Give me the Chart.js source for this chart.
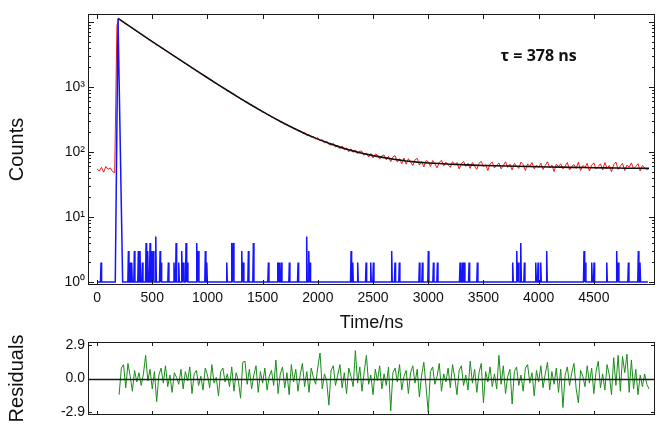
<!DOCTYPE html>
<html lang="en">
<head>
<meta charset="UTF-8">
<title>Fluorescence decay</title>
<script src="https://cdn.jsdelivr.net/npm/chart.js"></script>
<style>
  body { margin: 0; background: #fff; }
  #wrap { position: relative; width: 667px; height: 427px; }
  #wrap canvas { position: absolute; left: 0; }
  #chart-decay { top: 0; }
  #chart-resid { top: 330px; }
</style>
</head>
<body>
<div id="wrap">
  <canvas id="chart-decay" width="667" height="335"></canvas>
  <canvas id="chart-resid" width="667" height="97"></canvas>
</div>
<script>
// axis ranges / ticks
const timeMin = -82, timeMax = 5054;
const timeTicks = [0, 500, 1000, 1500, 2000, 2500, 3000, 3500, 4000, 4500];
const countMin = 0.9, countMax = 13300;
const countTicks = [1, 10, 100, 1000];
const residMin = -3.15, residMax = 3.15;
const residTicks = [-2.9, 0, 2.9];
const tauLabel = 'τ = 378 ns';
const tauLabelAt = [4000, 3000];

// measured decay, 20 ns channels starting at 0 ns
const decayStart = 0, decayStep = 20;
const decayCounts = [
  55, 51, 58, 49, 60, 54, 57, 50, 48, 9000,
  11050, 10380, 9950, 9330, 8960, 8420, 8060, 7570, 7260, 6830,
  6540, 6120, 5890, 5520, 5310, 4960, 4790, 4470, 4310, 4030,
  3900, 3640, 3510, 3270, 3160, 2960, 2860, 2660, 2570, 2400,
  2330, 2170, 2100, 1950, 1900, 1770, 1720, 1590, 1550, 1440,
  1410, 1300, 1270, 1170, 1150, 1060, 1045, 965, 945, 870,
  860, 790, 785, 718, 710, 650, 645, 592, 590, 538,
  534, 496, 485, 452, 444, 411, 405, 379, 372, 345,
  342, 317, 313, 291, 290, 266, 268, 246, 247, 228,
  230, 211, 214, 195, 199, 181, 186, 169, 174, 158,
  166, 149, 155, 138, 147, 131, 128, 136, 119, 127,
  113, 124, 108, 115, 101, 112, 99, 108, 94, 104,
  102, 89, 97, 84, 95, 81, 93, 90, 78, 88,
  90, 76, 86, 71, 84, 88, 70, 79, 66, 81,
  65, 79, 70, 62, 76, 80, 63, 72, 59, 74,
  71, 60, 74, 66, 57, 69, 75, 61, 70, 64,
  58, 71, 63, 69, 55, 66, 72, 60, 67, 56,
  69, 61, 54, 67, 72, 59, 64, 52, 66, 70,
  57, 63, 68, 55, 62, 71, 58, 65, 53, 67,
  61, 56, 70, 64, 52, 66, 60, 69, 55, 63,
  58, 67, 54, 62, 71, 57, 63, 50, 65, 60,
  66, 55, 61, 69, 53, 60, 64, 56, 70, 52,
  62, 58, 67, 51, 63, 68, 55, 60, 66, 53,
  69, 56, 62, 50, 64, 70, 54, 61, 67, 52,
  63, 58, 68, 55, 60, 66, 51, 62, 57, 54,
  56
];

// single exponential fit
const fitTime = [190, 300, 400, 500, 600, 700, 800, 900, 1000, 1100,
  1200, 1300, 1400, 1500, 1600, 1700, 1800, 1900, 2000, 2100,
  2200, 2300, 2400, 2500, 2600, 2700, 2800, 2900, 3000, 3100,
  3200, 3300, 3400, 3500, 3600, 3700, 3800, 3900, 4000, 4100,
  4200, 4300, 4400, 4500, 4600, 4700, 4800, 4900, 5000];
const fitCounts = [11400, 8500, 6500, 5000, 3870, 2990, 2310, 1790, 1390, 1080,
  845, 665, 525, 418, 336, 272, 224, 186, 158, 136,
  119, 106, 96, 88, 82, 77, 73, 70, 68, 66.5,
  65, 64, 63, 62, 61.5, 61, 60.5, 60, 59.5, 59,
  58.5, 58, 57.7, 57.4, 57, 56.7, 56.4, 56.2, 56];

// instrument response: baseline of 1 count, main pulse and single-count spikes
const irfStart = 0, irfEnd = 4990, irfBaseline = 1, irfSpikeHalfWidth = 5;
const irfPulseTime = [165, 190, 232];
const irfPulseCounts = [1, 11200, 1];
const irfSpikeTime = [36, 284, 299, 314, 338, 374, 389, 411, 444, 459,
  480, 495, 510, 532, 571, 580, 646, 697, 716, 740,
  767, 782, 806, 818, 903, 918, 981, 994, 1175, 1220,
  1235, 1311, 1325, 1371, 1416, 1552, 1637, 1649, 1670, 1742,
  1821, 1899, 1918, 1929, 2301, 2316, 2361, 2437, 2479, 2503,
  2669, 2699, 2738, 2920, 2947, 3001, 3047, 3083, 3288, 3309,
  3327, 3370, 3445, 3765, 3802, 3817, 3838, 3871, 3974, 3995,
  4019, 4073, 4411, 4423, 4481, 4502, 4617, 4707, 4722, 4813,
  4903, 4918];
const irfSpikeCounts = [2, 3, 2, 2, 3, 3, 3, 2, 4, 3,
  4, 3, 3, 5, 3, 2, 2, 2, 4, 2,
  3, 2, 4, 2, 4, 3, 3, 2, 2, 4,
  4, 3, 2, 3, 4, 2, 2, 2, 2, 2,
  2, 5, 3, 2, 3, 2, 2, 2, 2, 2,
  3, 2, 2, 2, 2, 3, 2, 2, 2, 2,
  2, 2, 2, 2, 3, 2, 4, 2, 2, 2,
  2, 3, 3, 2, 2, 2, 2, 3, 2, 2,
  3, 2];

// weighted residuals, 20 ns channels from 200 ns
const residStart = 200, residStep = 20;
const residValues = [
  -1.4, 0.9, 1.2, -0.8, 1.3, 0.2, -1.1, 0.7, -0.3, 0.5,
  -0.6, 0.4, 2.0, -0.2, 0.8, -0.9, 0.6, -2.0, 0.3, 0.9,
  -0.4, 1.1, -0.7, 0.3, -1.2, 0.5, 0.1, -0.5, 0.8, -0.9,
  0.6, -0.2, 1.0, -1.3, 0.4, 0.7, -0.6, 0.2, -1.0, 0.9,
  0.3, -0.8, 1.2, -0.4, 0.1, -1.5, 0.6, 0.9, -0.3, 0.4,
  -0.7, 1.0, -1.1, 0.5, -0.2, -1.7, 1.4, 1.5, -0.5, 0.8,
  -0.9, 0.3, 1.1, -1.2, 0.6, -0.4, 0.9, -1.0, 0.2, 0.7,
  -0.6, 1.6, -1.3, 0.4, 1.0, -0.8, 0.5, -1.4, 1.2, -0.3,
  0.8, -1.1, 0.3, 1.3, -0.7, 0.6, -1.2, 0.9, 0.1, -0.5,
  1.0, 2.2, -0.9, 0.4, -0.2, -2.3, 0.7, 1.1, -0.6, 0.3,
  1.2, -0.8, 0.5, -1.3, 0.9, 0.2, -0.7, 2.4, -0.4, 1.0,
  -1.1, 0.6, 2.0, -0.5, 0.3, -1.4, 0.8, -0.2, 1.1, -0.9,
  0.4, -0.6, 1.0, -2.8, 0.5, 0.9, -0.3, 1.2, -1.0, 0.2,
  0.7, -1.3, 0.5, 1.1, -0.4, 0.8, -1.6, 0.3, 1.4, -0.7,
  -2.9, 0.6, 1.0, -0.5, 0.2, 1.3, -1.1, 0.4, -0.3, 0.9,
  -0.8, 1.2, 0.1, -1.4, 0.7, 1.1, -0.6, 0.3, -1.0, 1.5,
  -0.4, 0.8, -1.2, 0.5, 1.3, -2.1, 0.6, -0.3, 1.0, -0.7,
  0.4, -0.9, 2.0, -0.5, 1.1, -1.3, 0.2, 0.8, -2.2, 0.6,
  1.0, -0.6, 0.3, -1.1, 0.9, 1.2, -0.4, 0.5, -1.5, 0.7,
  -0.3, 1.1, -0.8, 0.4, 1.4, -1.0, 0.6, -0.5, 0.9, -1.2,
  0.8, -2.5, 0.3, 1.0, -0.6, 0.5, 1.3, -0.9, -2.1, 0.7,
  0.2, -0.7, 1.1, -0.4, 0.9, -1.3, 0.6, 1.5, -0.8, 0.4,
  -1.0, 1.2, 0.3, -1.4, 1.8, -0.6, 2.0, -1.1, 1.9, 0.5,
  2.1, -1.2, 1.6, -0.9, 0.8, -1.4, 0.3, -0.7, 0.4, -0.5,
  -0.9
];

const FONT = 'Liberation Sans, Arial, sans-serif';
const SUP = ['⁰', '¹', '²', '³', '⁴'];

// build point lists
const decayPoints = decayCounts.map((y, i) => ({ x: decayStart + i * decayStep, y }));
const fitPoints = fitTime.map((x, i) => ({ x, y: fitCounts[i] }));
const residPoints = residValues.map((y, i) => ({ x: residStart + i * residStep, y }));

let irfPieces = irfPulseTime.map((x, i) => ({ x, y: irfPulseCounts[i] }));
irfSpikeTime.forEach((t, i) => {
  irfPieces.push({ x: t - irfSpikeHalfWidth, y: irfBaseline });
  irfPieces.push({ x: t, y: irfSpikeCounts[i] });
  irfPieces.push({ x: t + irfSpikeHalfWidth, y: irfBaseline });
});
irfPieces.sort((a, b) => a.x - b.x);
const irfPoints = [{ x: irfStart, y: irfBaseline }, ...irfPieces, { x: irfEnd, y: irfBaseline }];

// tick marks for the log axis (decades + minor)
const logMarks = [];
[1, 10, 100, 1000, 10000].forEach(d => {
  for (let m = 1; m <= 9; m++) {
    const v = d * m;
    if (v >= countMin && v <= countMax) logMarks.push([v, m === 1 ? 6 : 3]);
  }
});

// box, inward ticks, zero line and text label
const framePlugin = {
  id: 'frame',
  afterDatasetsDraw(chart, args, opts) {
    const { ctx, chartArea: a } = chart;
    const sx = chart.scales.x, sy = chart.scales.y;
    ctx.save();
    ctx.strokeStyle = '#1a1a1a';
    if (opts.zeroLine) {
      const py = Math.round(sy.getPixelForValue(0)) + 0.5;
      ctx.lineWidth = 1.4;
      ctx.beginPath();
      ctx.moveTo(a.left, py);
      ctx.lineTo(a.right, py);
      ctx.stroke();
    }
    ctx.lineWidth = 1;
    ctx.beginPath();
    (opts.xTicks || []).forEach(v => {
      const px = Math.round(sx.getPixelForValue(v)) + 0.5;
      ctx.moveTo(px, a.bottom); ctx.lineTo(px, a.bottom - opts.xTickLen);
      ctx.moveTo(px, a.top); ctx.lineTo(px, a.top + opts.xTickLen);
    });
    (opts.yTicks || []).forEach(([v, len]) => {
      const py = Math.round(sy.getPixelForValue(v)) + 0.5;
      ctx.moveTo(a.left, py); ctx.lineTo(a.left + len, py);
      ctx.moveTo(a.right, py); ctx.lineTo(a.right - len, py);
    });
    ctx.stroke();
    ctx.strokeRect(Math.round(a.left) + 0.5, Math.round(a.top) + 0.5,
      Math.round(a.width) - 1, Math.round(a.height) - 1);
    if (opts.label) {
      ctx.fillStyle = '#111';
      ctx.font = 'bold 16px "Open Sans", sans-serif';
      ctx.textAlign = 'center';
      ctx.textBaseline = 'middle';
      ctx.fillText(opts.label.text, sx.getPixelForValue(opts.label.at[0]), sy.getPixelForValue(opts.label.at[1]));
    }
    ctx.restore();
  }
};

const tickFont = { family: FONT, size: 14 };
const titleFont = { family: FONT, size: 20 };

new Chart(document.getElementById('chart-decay'), {
  type: 'line',
  data: {
    datasets: [
      { label: 'IRF', data: irfPoints, borderColor: '#1414ff', borderWidth: 1.5 },
      { label: 'Fit', data: fitPoints, borderColor: '#111', borderWidth: 1.6 },
      { label: 'Decay', data: decayPoints, borderColor: '#f01818', borderWidth: 1 }
    ]
  },
  options: {
    responsive: false,
    animation: false,
    layout: { padding: { left: 0, right: 12, top: 14, bottom: 0 } },
    elements: { point: { radius: 0 }, line: { tension: 0 } },
    plugins: {
      legend: { display: false },
      tooltip: { enabled: false },
      frame: { xTicks: timeTicks, xTickLen: 5, yTicks: logMarks, label: { text: tauLabel, at: tauLabelAt } }
    },
    scales: {
      x: {
        type: 'linear', min: timeMin, max: timeMax,
        grid: { display: false, drawTicks: false }, border: { display: false },
        afterBuildTicks: s => { s.ticks = timeTicks.map(v => ({ value: v })); },
        afterFit: s => { s.height = 50; },
        ticks: { padding: 5, color: '#111', font: tickFont, maxRotation: 0, autoSkip: false, callback: v => String(v) },
        title: { display: true, text: 'Time/ns', color: '#111', font: { family: FONT, size: 18 }, padding: { top: 0, bottom: 1 } }
      },
      y: {
        type: 'logarithmic', min: countMin, max: countMax,
        grid: { display: false, drawTicks: false }, border: { display: false },
        afterBuildTicks: s => { s.ticks = countTicks.map(v => ({ value: v })); },
        afterFit: s => { s.width = 88; },
        ticks: {
          padding: 3, color: '#111', font: tickFont, autoSkip: false,
          callback: v => '10' + SUP[Math.round(Math.log10(v))]
        },
        title: { display: true, text: 'Counts', color: '#111', font: titleFont, padding: { top: 5, bottom: 0 } }
      }
    }
  },
  plugins: [framePlugin]
});

new Chart(document.getElementById('chart-resid'), {
  type: 'line',
  data: {
    datasets: [
      { label: 'Residuals', data: residPoints, borderColor: '#1a8c1a', borderWidth: 1 }
    ]
  },
  options: {
    responsive: false,
    animation: false,
    layout: { padding: { left: 0, right: 12, top: 12, bottom: 12 } },
    elements: { point: { radius: 0 }, line: { tension: 0 } },
    plugins: {
      legend: { display: false },
      tooltip: { enabled: false },
      frame: { xTicks: timeTicks, xTickLen: 4, yTicks: residTicks.map(v => [v, 4]), zeroLine: true }
    },
    scales: {
      x: { type: 'linear', min: timeMin, max: timeMax, display: false },
      y: {
        min: residMin, max: residMax,
        grid: { display: false, drawTicks: false }, border: { display: false },
        afterBuildTicks: s => { s.ticks = residTicks.map(v => ({ value: v })); },
        afterFit: s => { s.width = 88; },
        ticks: { padding: 3, color: '#111', font: tickFont, autoSkip: false, callback: v => v.toFixed(1) },
        title: { display: true, text: 'Residuals', color: '#111', font: titleFont, padding: { top: 5, bottom: 0 } }
      }
    }
  },
  plugins: [framePlugin]
});
</script>
</body>
</html>
